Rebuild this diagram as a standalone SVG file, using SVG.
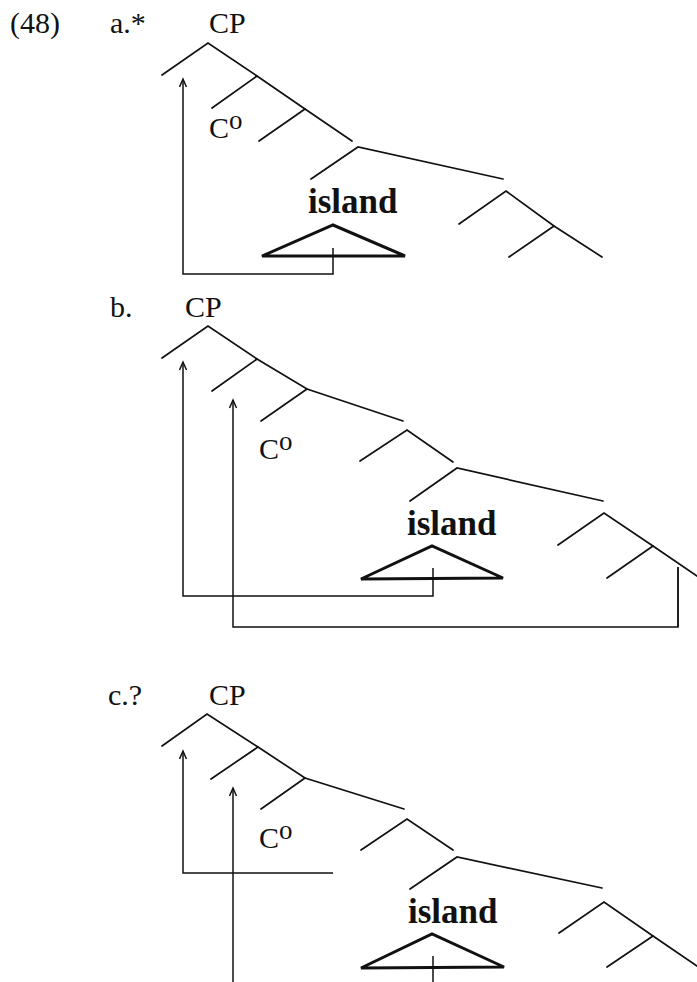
<svg xmlns="http://www.w3.org/2000/svg" width="697" height="982" viewBox="0 0 697 982">
<style>
  .bg{fill:#fff}
  .t{font-family:"Liberation Serif","Times New Roman",serif;font-size:30px;fill:#111}
  .sup{font-size:27px}
  .isl{font-family:"Liberation Serif","Times New Roman",serif;font-size:35px;font-weight:bold;fill:#111}
  .br{fill:none;stroke:#111;stroke-width:1.7;stroke-linecap:round;stroke-linejoin:miter}
  .tri{fill:none;stroke:#111;stroke-width:3;stroke-linejoin:miter}
  .mv{fill:none;stroke:#111;stroke-width:1.5}
</style>
<defs>
  <marker id="arr" markerUnits="userSpaceOnUse" markerWidth="12" markerHeight="10" viewBox="0 0 12 10" refX="9" refY="4" orient="auto">
    <path d="M1,0.5 L9,4 L1,7.5" fill="none" stroke="#111" stroke-width="1.5"/>
  </marker>
</defs>
<rect class="bg" x="0" y="0" width="697" height="982"/>

<g id="example-number"><text class="t" x="10" y="33">(48)</text></g>

<!-- Tree a -->
<g id="tree-a">
  <text class="t" x="110" y="33">a.*</text>
  <g id="a-CP"><text class="t" x="209" y="33">CP</text>
    <polyline class="br" points="162,75 208,43 257,76 305,109 352,141"/></g>
  <g id="a-n2"><polyline class="br" points="212,108 257,76"/></g>
  <g id="a-C0"><text class="t" x="209" y="138">C<tspan class="sup" dy="-9">o</tspan></text></g>
  <g id="a-n3"><polyline class="br" points="259,141 305,109"/></g>
  <g id="a-n4"><polyline class="br" points="311,179 358,147 503,179"/></g>
  <g id="a-n5"><polyline class="br" points="459,224 506,191 554,226 602,257"/></g>
  <g id="a-n6"><polyline class="br" points="509,257 554,226"/></g>
  <g id="a-island"><text class="isl" x="308" y="213">island</text>
    <polygon class="tri" points="262,256 333,225 405,256"/></g>
</g>

<!-- Tree b -->
<g id="tree-b">
  <text class="t" x="110" y="317">b.</text>
  <g id="b-CP"><text class="t" x="185" y="317">CP</text>
    <polyline class="br" points="162,358 208,326 257,359 307,389 403,421"/></g>
  <g id="b-n2"><polyline class="br" points="212,391 257,359"/></g>
  <g id="b-n3"><polyline class="br" points="261,421 307,389"/></g>
  <g id="b-C0"><text class="t" x="259" y="459">C<tspan class="sup" dy="-9">o</tspan></text></g>
  <g id="b-n4"><polyline class="br" points="360,461 407,430 453,462"/></g>
  <g id="b-n5"><polyline class="br" points="410,501 457,468 603,501"/></g>
  <g id="b-n6"><polyline class="br" points="558,545 604,513 653,546 697,576"/></g>
  <g id="b-n7"><polyline class="br" points="607,578 653,546"/></g>
  <g id="b-island"><text class="isl" x="407" y="535">island</text>
    <polygon class="tri" points="361,579 432,546 503,578"/></g>
</g>

<!-- Tree c -->
<g id="tree-c">
  <text class="t" x="108" y="705">c.?</text>
  <g id="c-CP"><text class="t" x="209" y="705">CP</text>
    <polyline class="br" points="162,746 207,714 258,747 305,778 404,809"/></g>
  <g id="c-n2"><polyline class="br" points="211,779 258,747"/></g>
  <g id="c-n3"><polyline class="br" points="261,809 305,778"/></g>
  <g id="c-C0"><text class="t" x="259" y="848">C<tspan class="sup" dy="-9">o</tspan></text></g>
  <g id="c-n4"><polyline class="br" points="361,850 407,819 453,850"/></g>
  <g id="c-n5"><polyline class="br" points="410,889 457,857 602,888"/></g>
  <g id="c-n6"><polyline class="br" points="559,933 604,902 653,936 697,966"/></g>
  <g id="c-n7"><polyline class="br" points="607,967 653,936"/></g>
  <g id="c-island"><text class="isl" x="408" y="923">island</text>
    <polygon class="tri" points="361,968 432,934 504,967"/></g>
</g>

<!-- Movement connectors -->
<g id="connectors">
  <path class="mv" d="M333,248 V274 H183 V79" marker-end="url(#arr)"/>
  <path class="mv" d="M433,568 V596 H183 V362" marker-end="url(#arr)"/>
  <path class="mv" d="M678,567 V627 H233 V400" marker-end="url(#arr)"/>
  <path class="mv" d="M678,567 V627" stroke-width="2.2" fill="none" stroke="#111"/>
  <path class="mv" d="M333,873 H183 V751" marker-end="url(#arr)"/>
  <path class="mv" d="M233,982 V788" marker-end="url(#arr)"/>
  <path class="mv" d="M433,956 V982"/>
</g>
</svg>
